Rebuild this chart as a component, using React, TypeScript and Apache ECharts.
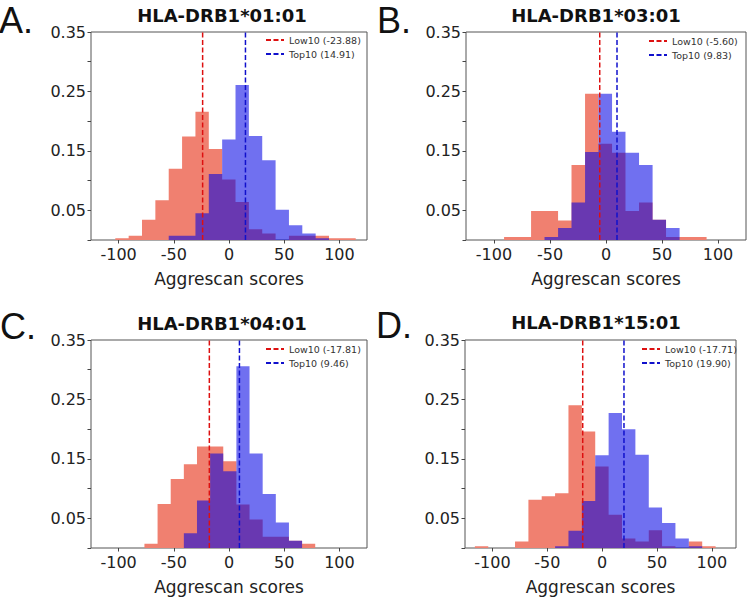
import React, { useEffect, useRef } from "react";
import * as echarts from "echarts";

// ---------- data ----------
const panelLetters = ["A.", "B.", "C.", "D."];
const alleles = ["HLA-DRB1*01:01", "HLA-DRB1*03:01", "HLA-DRB1*04:01", "HLA-DRB1*15:01"];
const low10Means = [-23.88, -5.6, -17.81, -17.71];
const top10Means = [14.91, 9.83, 9.46, 19.9];
const xTickValues = [-100, -50, 0, 50, 100];

// Panel A (HLA-DRB1*01:01)
const edgesA = [-103, -90.9, -78.8, -66.7, -54.6, -42.5, -30.4, -18.3, -6.2, 5.9, 18.0, 30.1, 42.2, 54.3, 66.4, 78.5, 90.6, 102.7, 114.8];
const low10A = [0.003, 0.007, 0.034, 0.067, 0.12, 0.174, 0.216, 0.153, 0.102, 0.064, 0.018, 0.011, 0.0, 0.007, 0.007, 0.007, 0.003, 0.003];
const top10A = [0, 0, 0, 0, 0.007, 0.007, 0.045, 0.111, 0.169, 0.261, 0.175, 0.134, 0.051, 0.025, 0.011, 0.003, 0, 0];

// Panel B (HLA-DRB1*03:01)
const edgesB = [-91, -79, -66.9, -54.9, -42.8, -30.8, -18.7, -6.7, 5.4, 17.4, 29.5, 41.6, 53.6, 65.7, 77.7, 89.8];
const low10B = [0.005, 0.005, 0.049, 0.049, 0.033, 0.126, 0.246, 0.162, 0.147, 0.049, 0.063, 0.034, 0.005, 0.005, 0.005];
const top10B = [0, 0, 0, 0.005, 0.02, 0.063, 0.148, 0.246, 0.182, 0.147, 0.126, 0.034, 0.02, 0, 0];

// Panel C (HLA-DRB1*04:01)
const edgesC = [-76.6, -64.7, -52.8, -40.9, -29.0, -17.1, -5.2, 6.7, 18.6, 30.5, 42.4, 54.3, 66.2, 78.1];
const low10C = [0.007, 0.074, 0.116, 0.141, 0.171, 0.171, 0.146, 0.073, 0.048, 0.019, 0.019, 0.012, 0.007];
const top10C = [0, 0, 0, 0.025, 0.08, 0.159, 0.129, 0.306, 0.159, 0.091, 0.043, 0.012, 0];

// Panel D (HLA-DRB1*15:01)
const edgesD = [-116, -103.8, -91.6, -79.4, -67.2, -55.1, -42.9, -30.7, -18.5, -6.3, 5.9, 18.1, 30.3, 42.5, 54.6, 66.8, 79.0, 91.2, 103.4];
const low10D = [0.003, 0, 0, 0.011, 0.081, 0.087, 0.092, 0.24, 0.196, 0.137, 0.056, 0.016, 0.011, 0.03, 0.003, 0, 0.011, 0.003];
const top10D = [0, 0, 0, 0, 0, 0, 0.003, 0.029, 0.079, 0.156, 0.227, 0.2, 0.157, 0.068, 0.042, 0.016, 0.003, 0];

const allEdges = [edgesA, edgesB, edgesC, edgesD];
const allLow = [low10A, low10B, low10C, low10D];
const allTop = [top10A, top10B, top10C, top10D];

// ---------- layout ----------
const layout = [
  { grid: { left: 91, top: 32, width: 276, height: 208 }, xMin: -125, xMax: 125, legend: { left: 265, top: 35 }, title: [222, 15], letter: [-1, 20] },
  { grid: { left: 466, top: 32, width: 280, height: 208 }, xMin: -125, xMax: 125, legend: { left: 648, top: 36 }, title: [596, 15], letter: [377, 20] },
  { grid: { left: 91, top: 340, width: 276, height: 208 }, xMin: -125, xMax: 125, legend: { left: 265, top: 344 }, title: [222, 323], letter: [0, 326] },
  { grid: { left: 465, top: 340, width: 271, height: 208 }, xMin: -125, xMax: 122, legend: { left: 641, top: 344 }, title: [596, 322], letter: [376, 325] },
];

const FONT = "DejaVu Sans";
const RED_FILL = "#F08070";
const BLUE_FILL = "#0000E4";
const RED_LINE = "#dd1010";
const BLUE_LINE = "#1010cc";

function stepData(edges: number[], vals: number[]) {
  return edges.map((e, k) => [e, k < vals.length ? vals[k] : 0]);
}

function buildOption() {
  const grids: any[] = [];
  const xAxes: any[] = [];
  const yAxes: any[] = [];
  const series: any[] = [];
  const legends: any[] = [];
  const graphics: any[] = [];

  for (let i = 0; i < 4; i++) {
    const L = layout[i];
    grids.push({ ...L.grid, show: true, borderColor: "#555", borderWidth: 1, backgroundColor: "transparent" });
    xAxes.push({
      type: "value",
      gridIndex: i,
      min: L.xMin,
      max: L.xMax,
      position: "bottom",
      axisLine: { show: false, onZero: false },
      axisTick: { show: true, customValues: xTickValues, length: 3.5, lineStyle: { color: "#444" } },
      axisLabel: { customValues: xTickValues, fontSize: 16, color: "#222", fontFamily: FONT, margin: 6 },
      splitLine: { show: false },
      name: "Aggrescan scores",
      nameLocation: "middle",
      nameGap: 30,
      nameTextStyle: { fontSize: 17, color: "#222", fontFamily: FONT },
    });
    yAxes.push({
      type: "value",
      gridIndex: i,
      min: 0,
      max: 0.35,
      interval: 0.05,
      position: "left",
      axisLine: { show: false, onZero: false },
      axisTick: { show: true, length: 3.5, lineStyle: { color: "#444" } },
      axisLabel: {
        fontSize: 16,
        color: "#222",
        fontFamily: FONT,
        margin: 5,
        formatter: (v: number) => (Math.round(v * 100) % 10 === 5 ? v.toFixed(2) : ""),
      },
      splitLine: { show: false },
    });

    const lowName = `Low10 (${low10Means[i].toFixed(2)})`;
    const topName = `Top10 (${top10Means[i].toFixed(2)})`;

    series.push({
      name: `low-hist-${i}`,
      type: "line",
      xAxisIndex: i,
      yAxisIndex: i,
      step: "end",
      symbol: "none",
      silent: true,
      data: stepData(allEdges[i], allLow[i]),
      lineStyle: { width: 0, opacity: 0 },
      areaStyle: { color: RED_FILL, opacity: 1 },
      z: 1,
    });
    series.push({
      name: `top-hist-${i}`,
      type: "line",
      xAxisIndex: i,
      yAxisIndex: i,
      step: "end",
      symbol: "none",
      silent: true,
      data: stepData(allEdges[i], allTop[i]),
      lineStyle: { width: 0, opacity: 0 },
      areaStyle: { color: BLUE_FILL, opacity: 0.56 },
      z: 2,
    });
    series.push({
      name: lowName,
      type: "line",
      xAxisIndex: i,
      yAxisIndex: i,
      symbol: "none",
      silent: true,
      data: [[low10Means[i], 0], [low10Means[i], 0.35]],
      lineStyle: { color: RED_LINE, width: 1.5, type: [5, 2.5] },
      itemStyle: { color: RED_LINE },
      z: 3,
    });
    series.push({
      name: topName,
      type: "line",
      xAxisIndex: i,
      yAxisIndex: i,
      symbol: "none",
      silent: true,
      data: [[top10Means[i], 0], [top10Means[i], 0.35]],
      lineStyle: { color: BLUE_LINE, width: 1.5, type: [5, 2.5] },
      itemStyle: { color: BLUE_LINE },
      z: 3,
    });

    legends.push({
      data: [lowName, topName],
      left: L.legend.left,
      top: L.legend.top,
      orient: "vertical",
      itemWidth: 18,
      itemHeight: 10,
      itemGap: 4,
      padding: 0,
      selectedMode: false,
      itemStyle: { opacity: 0 },
      textStyle: { fontSize: 9.5, fontFamily: FONT, color: "#333" },
    });

    graphics.push({
      type: "text",
      x: L.letter[0],
      y: L.letter[1],
      style: {
        text: panelLetters[i],
        font: '36px "Liberation Sans"',
        fill: "#111",
        align: "left",
        textAlign: "left",
        verticalAlign: "middle",
        textVerticalAlign: "middle",
      },
    });
    graphics.push({
      type: "text",
      x: L.title[0],
      y: L.title[1],
      style: {
        text: alleles[i],
        font: `bold 18px "${FONT}"`,
        fill: "#111",
        align: "center",
        textAlign: "center",
        verticalAlign: "middle",
        textVerticalAlign: "middle",
      },
    });
  }

  return {
    animation: false,
    backgroundColor: "#ffffff",
    grid: grids,
    xAxis: xAxes,
    yAxis: yAxes,
    series,
    legend: legends,
    graphic: graphics,
  };
}

export default function App() {
  const ref = useRef<HTMLDivElement>(null);
  useEffect(() => {
    if (!ref.current) return;
    const chart = echarts.init(ref.current, undefined, { renderer: "svg" });
    chart.setOption(buildOption() as any);
    return () => chart.dispose();
  }, []);
  return (
    <div
      ref={ref}
      style={{ position: "absolute", left: 0, top: 0, width: 748, height: 602, background: "#fff" }}
    />
  );
}
